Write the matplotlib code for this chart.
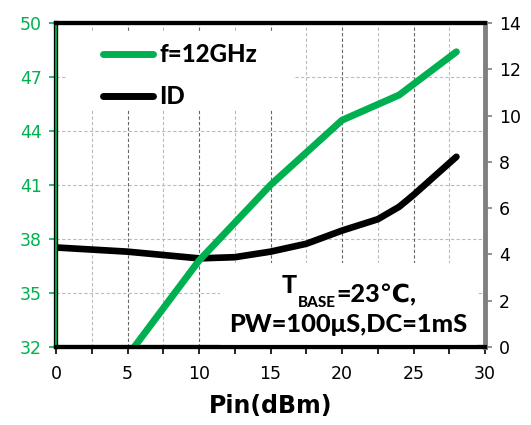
import matplotlib
matplotlib.use("Agg")
import matplotlib.pyplot as plt
from matplotlib.lines import Line2D

# Data
pin_pout = [5, 10, 15, 20, 24, 28]
pout = [31.5, 36.8, 41.0, 44.6, 46.0, 48.4]
pin_id = [0, 5, 10, 12.5, 15, 17.5, 20, 22.5, 24, 25, 28]
idd = [4.3, 4.12, 3.83, 3.88, 4.12, 4.46, 5.03, 5.52, 6.06, 6.57, 8.22]

x_ticks = [0, 5, 10, 15, 20, 25, 30]
x_minor = [2.5, 7.5, 12.5, 17.5, 22.5, 27.5]
left_ticks = [32, 35, 38, 41, 44, 47, 50]
right_ticks = [0, 2, 4, 6, 8, 10, 12, 14]

GREEN = "#00B050"
W, H = 531, 425
fig = plt.figure(figsize=(W / 100, H / 100), dpi=100)
ax = fig.add_axes([56 / W, 1 - 347 / H, (485 - 56) / W, (347 - 23) / H])
ax2 = ax.twinx()

ax.set_xlim(0, 30)
ax.set_ylim(32, 50)
ax2.set_ylim(0, 14)

ax.set_xticks(x_ticks)
ax.set_xticks(x_minor, minor=True)
ax.set_yticks(left_ticks)
ax2.set_yticks(right_ticks)

ax.tick_params(axis="x", which="both", direction="out", length=5, width=1.2,
               color="black", labelsize=12.5, pad=8, labelcolor="black")
ax.tick_params(axis="y", direction="out", length=5, width=1.2, color=GREEN,
               labelcolor=GREEN, labelsize=12.5, pad=5)
ax2.tick_params(axis="y", direction="out", length=5, width=1.2, color="#808080",
                labelcolor="black", labelsize=12.5, pad=5)

# grid
for yv in left_ticks[1:-1]:
    ax.axhline(yv, color="#bbbbbb", lw=0.8, ls=(0, (3, 2)), zorder=0.5)
for xv in x_ticks[1:-1]:
    ax.axvline(xv, color="#666666", lw=0.8, ls=(0, (3, 2)), zorder=0.5)
for xv in x_minor:
    ax.axvline(xv, color="#bbbbbb", lw=0.8, ls=(0, (3, 2)), zorder=0.5)

for a in (ax, ax2):
    for sp in ("top", "bottom"):
        a.spines[sp].set_visible(True)
        a.spines[sp].set_linewidth(3)
        a.spines[sp].set_color("black")
        a.spines[sp].set_zorder(7)
ax2.spines["left"].set_linewidth(3)
ax2.spines["left"].set_color("black")
ax2.spines["right"].set_linewidth(3.5)
ax2.spines["right"].set_color("#808080")
ax.spines["right"].set_visible(False)
ax.spines["left"].set_linewidth(3)
ax.spines["left"].set_color("black")
ax2.axvline(0, color=GREEN, lw=1.3, zorder=6, clip_on=False)

# lines
ax2.plot(pin_id, idd, color="black", lw=4.8, solid_capstyle="round",
         solid_joinstyle="round", zorder=3)
l_p, = ax2.plot(pin_pout, pout, color=GREEN, lw=5, solid_capstyle="round",
                solid_joinstyle="round", zorder=4, transform=ax.transData)
l_p.set_clip_path(ax2.patch)

bold_font = dict(family=["Lato", "DejaVu Sans"], weight=900)

# white boxes behind legend and annotation (hide grid there)
ax2.add_patch(plt.Rectangle((67 / W, 1 - 110 / H), (293 - 67) / W, (110 - 32) / H,
                            transform=fig.transFigure, facecolor="white",
                            edgecolor="none", zorder=4.5))
ax2.add_patch(plt.Rectangle((220 / W, 1 - 345 / H), (477 - 220) / W, (345 - 263) / H,
                            transform=fig.transFigure, facecolor="white",
                            edgecolor="none", zorder=4.5))

leg = ax2.legend([Line2D([], [], color=GREEN, lw=5, solid_capstyle="round"),
                  Line2D([], [], color="black", lw=5, solid_capstyle="round")],
                 ["f=12GHz", "ID"], loc="upper left",
                 bbox_to_anchor=(103 / W, 1 - 43 / H), bbox_transform=fig.transFigure,
                 frameon=False,
                 prop=dict(family=["Lato", "DejaVu Sans"], weight=900, size=17.3),
                 handlelength=2.1, handletextpad=0.25, labelspacing=0.8,
                 borderpad=0, borderaxespad=0)
leg.set_zorder(5)

t1 = ax2.text(282 / W, 1 - 293 / H, "T", transform=fig.transFigure, fontsize=18,
              ha="left", va="baseline", zorder=6, **bold_font)
t2 = ax2.annotate("BASE", xy=(1, 0), xycoords=t1, xytext=(0.5, -7),
                  textcoords="offset points", fontsize=11, ha="left",
                  va="baseline", zorder=6, **bold_font)
ax2.annotate("=23\u2103,", xy=(1, 0), xycoords=t2, xytext=(0.5, 5),
             textcoords="offset points", fontsize=18, ha="left", va="baseline",
             zorder=6, **bold_font)
ax2.text(348 / W, 1 - 332 / H, "PW=100\u03bcS,DC=1mS", transform=fig.transFigure,
         fontsize=18.3, ha="center", va="baseline", zorder=6, **bold_font)

ax.set_xlabel("Pin(dBm)", fontsize=17, fontweight="bold", labelpad=8,
              family="DejaVu Sans")

fig.savefig("out.png", dpi=100)
